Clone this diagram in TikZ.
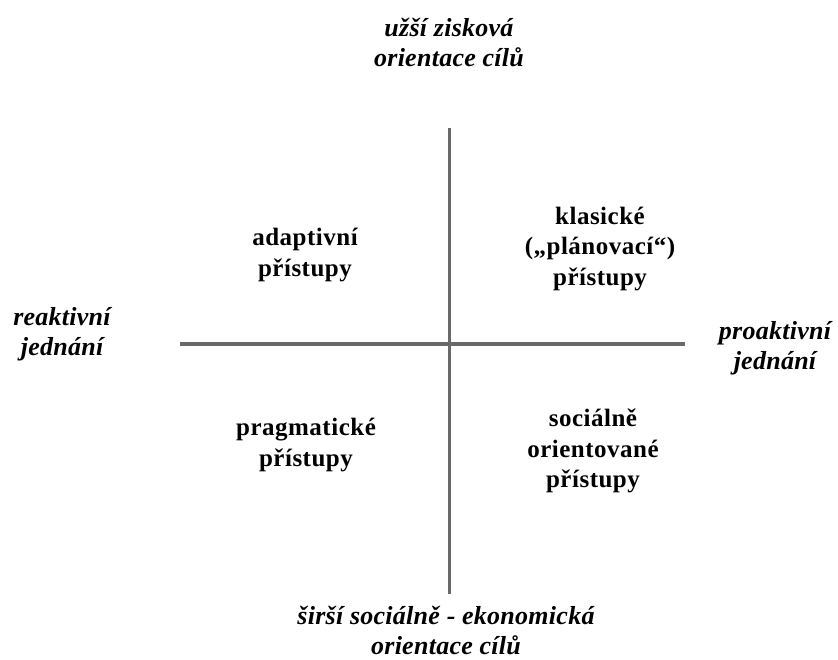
\documentclass[tikz,border=0pt]{standalone}
\usepackage{fontspec}
\setmainfont{Liberation Serif}
\newfontfamily\quadfont[LetterSpace=2]{Liberation Serif}
\newfontfamily\axisfont[LetterSpace=1]{Liberation Serif}
\begin{document}
\begin{tikzpicture}[x=1pt,y=-1pt,
  axisline/.style={draw={rgb,255:red,105;green,105;blue,105},line width=3.5pt},
  quadlabel/.style={align=center,inner sep=0pt,
    font=\quadfont\bfseries\fontsize{25}{30.5}\selectfont},
  axislabel/.style={align=center,inner sep=0pt,
    font=\axisfont\bfseries\itshape\fontsize{26}{30}\selectfont}]
  \useasboundingbox (0,0) rectangle (838,659);

  % axes
  \coordinate (vtop) at (449.5,128);
  \coordinate (vbot) at (449.5,594);
  \coordinate (hleft) at (180,344);
  \coordinate (hright) at (685,344);
  \draw[axisline] (vtop) -- (vbot);
  \draw[axisline] (hleft) -- (hright);

  % axis end labels
  \node[axislabel] (top) at (449,42) {užší zisková\\orientace cílů};
  \node[axislabel] (bottom) at (446,630) {širší sociálně - ekonomická\\orientace cílů};
  \node[axislabel] (left) at (62,334) {reaktivní\\jednání};
  \node[axislabel] (right) at (775,348) {proaktivní\\jednání};

  % quadrants
  \node[quadlabel] (adapt) at (305,255) {adaptivní\\přístupy};
  \node[quadlabel] (klas) at (600,249) {klasické\\(„plánovací“)\\přístupy};
  \node[quadlabel] (pragm) at (306,445) {pragmatické\\přístupy};
  \node[quadlabel] (soc) at (593,451) {sociálně\\orientované\\přístupy};
\end{tikzpicture}
\end{document}
